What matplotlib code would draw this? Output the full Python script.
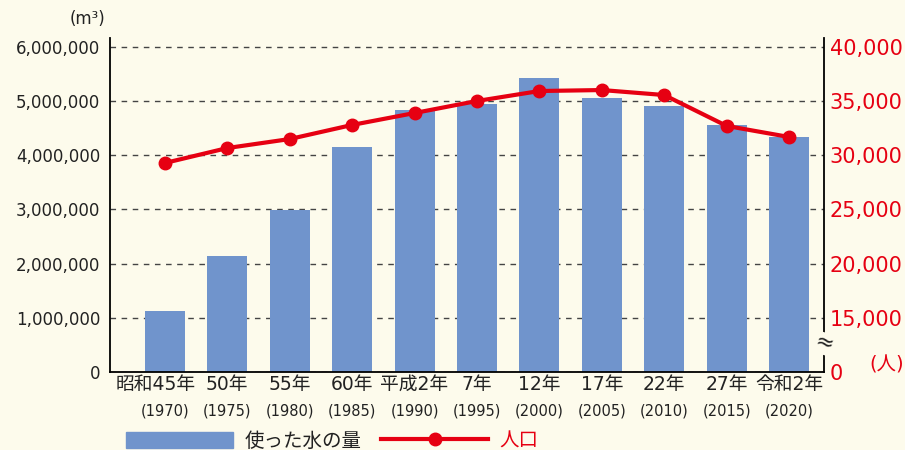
import matplotlib.pyplot as plt
from matplotlib.transforms import blended_transform_factory, ScaledTranslation
from matplotlib.patches import Patch
from matplotlib.lines import Line2D

plt.rcParams['font.family'] = ['DejaVu Sans', 'Noto Sans CJK JP']

# データ
labels = ['昭和45年', '50年', '55年', '60年', '平成2年', '7年', '12年', '17年', '22年', '27年', '令和2年']
years = ['(1970)', '(1975)', '(1980)', '(1985)', '(1990)', '(1995)', '(2000)', '(2005)', '(2010)', '(2015)', '(2020)']
water = [1130000, 2140000, 2990000, 4150000, 4830000, 4940000, 5420000, 5060000, 4910000, 4560000, 4340000]
population = [29280, 30660, 31490, 32790, 33890, 35000, 35920, 36010, 35550, 32700, 31680]
left_ticks = [0, 1000000, 2000000, 3000000, 4000000, 5000000, 6000000]
right_ticks = [15000, 20000, 25000, 30000, 35000, 40000]

bg = '#fdfbec'
blue = '#7094cc'
red = '#e60012'
ink = '#222222'

fig = plt.figure(figsize=(9.05, 4.5), dpi=100, facecolor=bg)
ax = fig.add_axes([0.1215, 0.1733, 0.789, 0.742])
ax.set_facecolor(bg)
x = list(range(len(labels)))

ax.bar(x, water, width=0.64, color=blue, zorder=2)
ax.set_xlim(-0.88, 10.56)
ax.set_ylim(0, 6160000)
ax.set_yticks(left_ticks)
ax.set_yticklabels(['{:,}'.format(v) for v in left_ticks], fontsize=12, color=ink)
ax.yaxis.grid(True, linestyle=(0, (4, 4)), color='#444444', linewidth=1, zorder=0)
ax.set_axisbelow(True)
ax.tick_params(axis='y', length=0, pad=7)
ax.tick_params(axis='x', length=0, pad=2)
ax.set_xticks(x)
ax.set_xticklabels(labels, fontsize=13.5, color=ink)
# 最初のラベルは少し左へ
lab0 = ax.get_xticklabels()[0]
lab0.set_transform(lab0.get_transform() + ScaledTranslation(-7 / 72, 0, fig.dpi_scale_trans))
for s in ['top', 'right']:
    ax.spines[s].set_visible(False)
ax.spines['left'].set_linewidth(1.3)
ax.spines['bottom'].set_linewidth(1.3)

# 年の表記（小さい文字）
tr = blended_transform_factory(ax.transData, ax.transAxes)
for i, y in enumerate(years):
    ax.text(i, -0.118, y, transform=tr, ha='center', va='center', fontsize=10.5, color=ink)

ax2 = ax.twinx()
ax2.plot(x, population, color=red, linewidth=3, marker='o', markersize=9, zorder=3)
ax2.set_ylim(10000, 10000 + 6.16 * 5000)
ax2.set_yticks([10000] + right_ticks)
ax2.set_yticklabels(['0'] + ['{:,}'.format(v) for v in right_ticks], fontsize=15, color=red)
ax2.tick_params(axis='y', length=0, pad=4, colors=red)
for s in ['top', 'left', 'bottom']:
    ax2.spines[s].set_visible(False)
ax2.spines['right'].set_linewidth(1.3)
ax2.text(1.0, 0.085, '≈', transform=ax2.transAxes, ha='center', va='center',
         fontsize=16, color=ink, rotation=-15,
         bbox=dict(boxstyle='square,pad=0.05', fc=bg, ec='none'))

fig.text(0.077, 0.958, '(m³)', ha='left', va='center', fontsize=12, color=ink)
fig.text(0.961, 0.188, '(人)', ha='left', va='center', fontsize=14, color=red)

handles = [Patch(color=blue), Line2D([], [], color=red, linewidth=3, marker='o', markersize=9)]
leg = fig.legend(handles, ['使った水の量', '人口'], loc='lower left', bbox_to_anchor=(0.135, -0.01),
                 ncol=2, frameon=False, fontsize=14, handlelength=5.5, handleheight=0.95,
                 columnspacing=1.0, handletextpad=0.6, borderpad=0.2, borderaxespad=0)
for t, c in zip(leg.get_texts(), [ink, red]):
    t.set_color(c)

fig.savefig('out.png', dpi=100, facecolor=bg)
